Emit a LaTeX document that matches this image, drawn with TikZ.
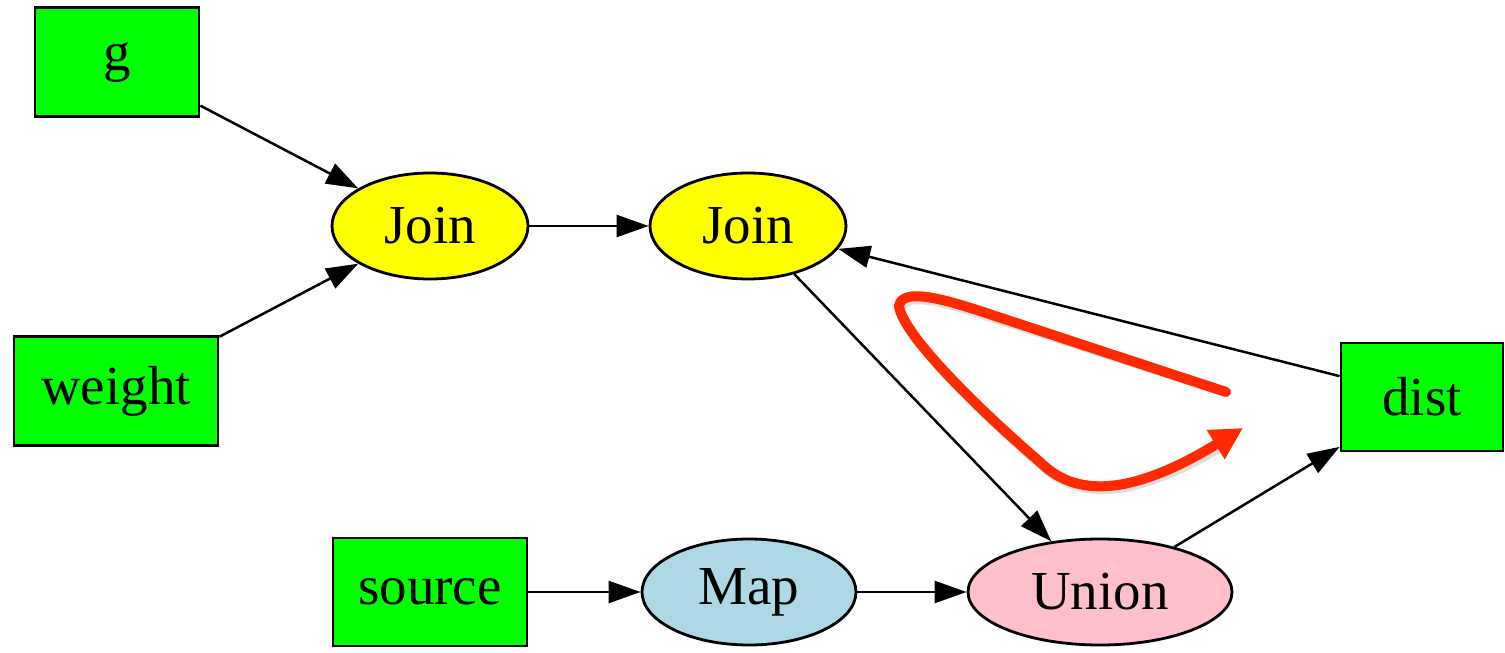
\documentclass[tikz,border=0pt]{standalone}
\usepackage{fontspec}
\setmainfont{Liberation Serif}
\usetikzlibrary{arrows.meta,shapes.geometric}
\definecolor{boxgreen}{HTML}{00FF00}
\definecolor{opyellow}{HTML}{FFFF00}
\definecolor{maplblue}{HTML}{ADD8E6}
\definecolor{unionpink}{HTML}{FFC0CB}
\definecolor{markred}{HTML}{FF2A00}
\tikzset{
  base/.style={draw=black, line width=1.4pt, inner sep=0pt,
    font=\fontsize{27.5}{31}\selectfont},
  relbox/.style={base, rectangle, fill=boxgreen},
  opnode/.style={base, ellipse, minimum height=53pt},
  edge/.style={line width=1.25pt, -{Triangle[length=16pt,width=11pt]}},
  loopstroke/.style={line width=5pt, markred, line cap=round, line join=round},
}
\begin{document}
\begin{tikzpicture}[x=0.5pt,y=-0.5pt]
  \useasboundingbox (0,0) rectangle (1505,653);
  \fill[white] (0,0) rectangle (1505,653);

  % relations
  \node[relbox, minimum width=82pt, minimum height=54.5pt] (g) at (117,62) {g};
  \node[relbox, minimum width=102pt, minimum height=54.5pt] (weight) at (116,391) {weight};
  \node[relbox, minimum width=81pt, minimum height=54pt] (dist) at (1422,397) {dist};
  \node[relbox, minimum width=97pt, minimum height=54pt] (source) at (430,592) {source};

  % operators
  \node[opnode, fill=opyellow, minimum width=98pt] (join1) at (430,226) {Join};
  \node[opnode, fill=opyellow, minimum width=98pt] (join2) at (748,226) {Join};
  \node[opnode, fill=maplblue, minimum width=107pt] (map) at (749,592) {Map};
  \node[opnode, fill=unionpink, minimum width=132pt] (union) at (1100,592) {Union};

  % dataflow
  \draw[edge] (g) -- (join1);
  \draw[edge] (weight) -- (join1);
  \draw[edge] (join1) -- (join2);
  \draw[edge] (join2) -- (union);
  \draw[edge] (source) -- (map);
  \draw[edge] (map) -- (union);
  \draw[edge] (union) -- (dist);
  \draw[edge] (dist) -- (join2);

  % hand-drawn loop marker
  \coordinate (loopstart) at (1226,392);
  \coordinate (looptip) at (1243,428);
  \draw[loopstroke, black!25, opacity=0.5, shift={(2,3)}]
    (loopstart) -- (980,311) .. controls (940,298) and (902,288) .. (899,306)
    .. controls (902,335) and (985,415) .. (1040,462)
    .. controls (1075,497) and (1130,497) .. (1222,442);
  \draw[loopstroke, -{Triangle[length=16pt,width=16pt]}]
    (loopstart) -- (980,311) .. controls (940,298) and (902,288) .. (899,306)
    .. controls (902,335) and (985,415) .. (1040,462)
    .. controls (1075,497) and (1130,497) .. (looptip);
\end{tikzpicture}
\end{document}
